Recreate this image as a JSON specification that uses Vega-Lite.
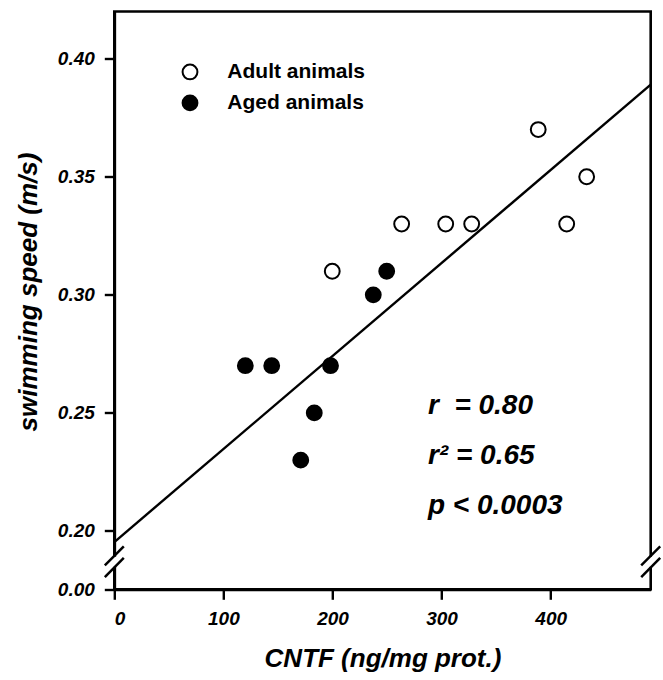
{
  "$schema": "https://vega.github.io/schema/vega-lite/v6.json",
  "width": 536.4,
  "height": 577.8,
  "autosize": "none",
  "padding": {"left": 114.3, "top": 11.5, "right": 12.3, "bottom": 90.7},
  "background": "white",
  "config": {
    "view": {"stroke": "black", "strokeWidth": 2.6},
    "font": "Liberation Sans",
    "axis": {
      "grid": false,
      "domainColor": "black",
      "domainWidth": 2.7,
      "tickColor": "black",
      "tickWidth": 2.4,
      "tickSize": 10,
      "labelFont": "Liberation Sans",
      "labelFontWeight": "bold",
      "labelFontStyle": "italic",
      "labelFontSize": 19,
      "labelColor": "black",
      "titleFont": "Liberation Sans",
      "titleFontWeight": "bold",
      "titleFontStyle": "italic",
      "titleFontSize": 26,
      "titleColor": "black"
    }
  },
  "datasets": {
    "pts": [
      {"x": 199.8, "y": 0.31, "group": "Adult"},
      {"x": 263.4, "y": 0.33, "group": "Adult"},
      {"x": 303.8, "y": 0.33, "group": "Adult"},
      {"x": 327.6, "y": 0.33, "group": "Adult"},
      {"x": 388.6, "y": 0.37, "group": "Adult"},
      {"x": 414.7, "y": 0.33, "group": "Adult"},
      {"x": 433.0, "y": 0.35, "group": "Adult"},
      {"x": 120.1, "y": 0.27, "group": "Aged"},
      {"x": 144.3, "y": 0.27, "group": "Aged"},
      {"x": 198.2, "y": 0.27, "group": "Aged"},
      {"x": 170.9, "y": 0.23, "group": "Aged"},
      {"x": 183.3, "y": 0.25, "group": "Aged"},
      {"x": 237.4, "y": 0.30, "group": "Aged"},
      {"x": 249.7, "y": 0.31, "group": "Aged"}
    ],
    "fit": [
      {"x": 0, "y": 0.1953},
      {"x": 491.7, "y": 0.389}
    ],
    "gaps": [
      {"x": -4, "x2": 4, "y": 0.1848, "y2": 0.1891},
      {"x": 487.7, "x2": 495.7, "y": 0.1848, "y2": 0.1891}
    ],
    "slashes": [
      {"x": -8.7, "y": 0.1854, "x2": 8.7, "y2": 0.1935},
      {"x": -8.7, "y": 0.1805, "x2": 8.7, "y2": 0.1886},
      {"x": 483.0, "y": 0.1854, "x2": 500.4, "y2": 0.1935},
      {"x": 483.0, "y": 0.1805, "x2": 500.4, "y2": 0.1886}
    ],
    "legend": [
      {"x": 69.4, "tx": 103.6, "y": 0.3944, "group": "Adult", "label": "Adult animals"},
      {"x": 69.4, "tx": 103.6, "y": 0.3813, "group": "Aged", "label": "Aged animals"}
    ],
    "stats": [
      {"x": 287.5, "y": 0.2494, "label": "r\u00a0 = 0.80"},
      {"x": 287.5, "y": 0.2284, "label": "r² = 0.65"},
      {"x": 287.5, "y": 0.2072, "label": "p < 0.0003"}
    ]
  },
  "encoding": {
    "x": {
      "field": "x",
      "type": "quantitative",
      "scale": {"domain": [0, 491.7], "nice": false, "zero": false},
      "axis": {
        "title": "CNTF (ng/mg prot.)",
        "values": [0, 100, 200, 300, 400],
        "labelPadding": 10,
        "titlePadding": 17
      }
    },
    "y": {
      "field": "y",
      "type": "quantitative",
      "scale": {"domain": [0.1753, 0.42], "nice": false, "zero": false},
      "axis": {
        "title": "swimming speed (m/s)",
        "values": [0.1753, 0.2, 0.25, 0.3, 0.35, 0.4],
        "labelExpr": "datum.value < 0.19 ? '0.00' : format(datum.value, '.2f')",
        "labelPadding": 10,
        "titlePadding": 16,
        "titleY": 280
      }
    }
  },
  "layer": [
    {
      "data": {"name": "fit"},
      "mark": {"type": "line", "color": "black", "strokeWidth": 2.4},
      "encoding": {}
    },
    {
      "data": {"name": "gaps"},
      "mark": {"type": "rect", "fill": "white", "strokeWidth": 0},
      "encoding": {
        "x2": {"field": "x2"},
        "y2": {"field": "y2"}
      }
    },
    {
      "data": {"name": "slashes"},
      "mark": {"type": "rule", "color": "black", "strokeWidth": 2.5},
      "encoding": {
        "x2": {"field": "x2"},
        "y2": {"field": "y2"}
      }
    },
    {
      "data": {"name": "pts"},
      "mark": {"type": "point", "shape": "circle", "filled": false, "stroke": "black", "strokeWidth": 2, "size": 220, "opacity": 1},
      "encoding": {
        "fill": {
          "field": "group",
          "type": "nominal",
          "scale": {"domain": ["Adult", "Aged"], "range": ["white", "black"]},
          "legend": null
        }
      }
    },
    {
      "data": {"name": "legend"},
      "mark": {"type": "point", "shape": "circle", "filled": false, "stroke": "black", "strokeWidth": 2, "size": 220, "opacity": 1},
      "encoding": {
        "fill": {
          "field": "group",
          "type": "nominal",
          "scale": {"domain": ["Adult", "Aged"], "range": ["white", "black"]},
          "legend": null
        }
      }
    },
    {
      "data": {"name": "legend"},
      "mark": {"type": "text", "align": "left", "baseline": "middle", "fontSize": 21, "fontWeight": "bold", "font": "Liberation Sans", "color": "black"},
      "encoding": {
        "x": {"field": "tx", "type": "quantitative"},
        "text": {"field": "label"}
      }
    },
    {
      "data": {"name": "stats"},
      "mark": {"type": "text", "align": "left", "baseline": "alphabetic", "fontSize": 28, "fontWeight": "bold", "fontStyle": "italic", "font": "Liberation Sans", "color": "black"},
      "encoding": {
        "text": {"field": "label"}
      }
    }
  ]
}
